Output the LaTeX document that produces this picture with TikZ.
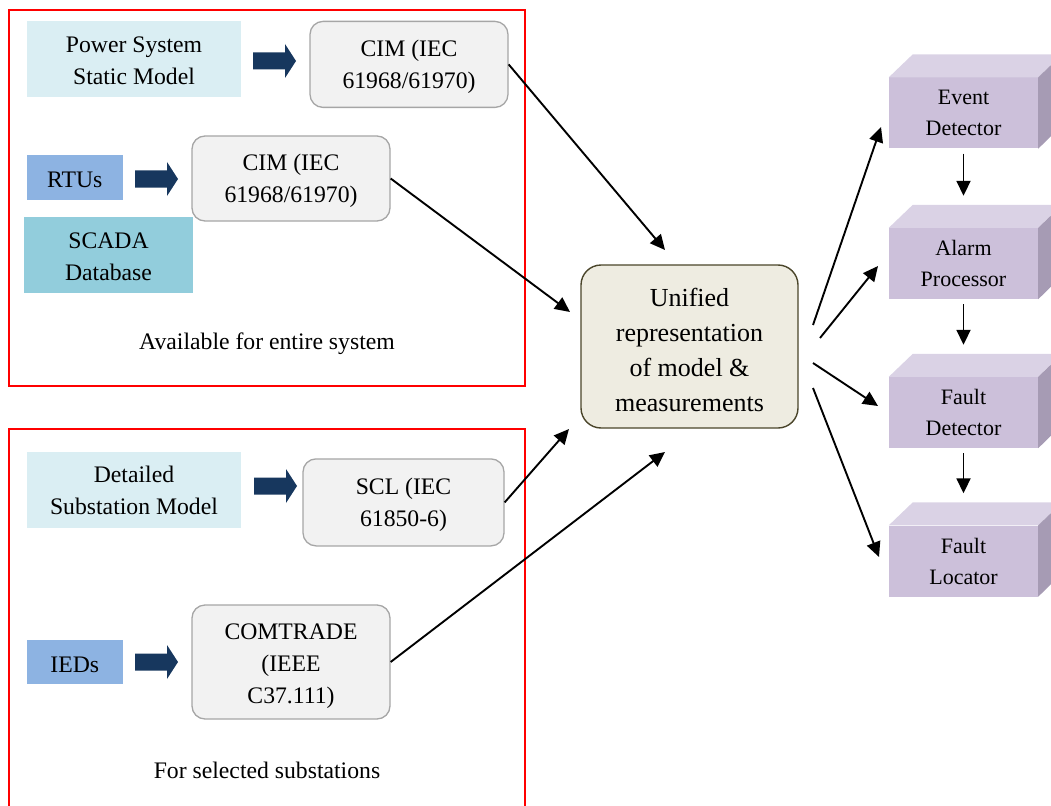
\documentclass[tikz,border=0pt]{standalone}
\usepackage{fontspec}
\setmainfont{Liberation Serif}
\usetikzlibrary{arrows.meta}
\definecolor{srcblue}{HTML}{DAEEF3}
\definecolor{devblue}{HTML}{8DB3E2}
\definecolor{scadablue}{HTML}{92CDDC}
\definecolor{navyarrow}{HTML}{17375E}
\definecolor{fmtfill}{HTML}{F2F2F2}
\definecolor{fmtdraw}{HTML}{A6A6A6}
\definecolor{unifill}{HTML}{EEECE1}
\definecolor{unidraw}{HTML}{4A452A}
\definecolor{cubefront}{HTML}{CCC0DA}
\definecolor{cubetop}{HTML}{DAD2E5}
\definecolor{cubeside}{HTML}{A69BB4}
\newcommand\blkarrow[1]{\fill[navyarrow] (#1) ++(0,-8.5) -- ++(32,0) -- ++(0,-8.5) -- ++(11,17) -- ++(-11,17) -- ++(0,-8.5) -- ++(-32,0) -- cycle;}
\newcommand\cubefaces[1]{%
  \fill[cubetop] (#1.north west) -- ++(24,-23) -- ++(149,0) -- (#1.north east) -- cycle;
  \fill[cubeside] (#1.north east) -- ++(24,-23) -- ++(0,71) -- (#1.south east) -- cycle;}
\tikzset{
  txt/.style={font=\fontsize{23.7}{32}\selectfont, align=center, inner sep=0},
  boxtext/.style={txt, yshift=-2.5pt},
  srcbox/.style={inner sep=0, fill=srcblue, minimum width=214, minimum height=76},
  devbox/.style={inner sep=0, fill=devblue, minimum width=95.6, minimum height=44},
  fmtbox/.style={inner sep=0, fill=fmtfill, draw=fmtdraw, line width=1.3, rounded corners=13},
  unibox/.style={inner sep=0, fill=unifill, draw=unidraw, line width=1.4, rounded corners=20, minimum width=217, minimum height=163},
  unitext/.style={font=\fontsize{26}{35}\selectfont, align=center, inner sep=0, yshift=-3.5pt},
  cube/.style={font=\fontsize{22}{31}\selectfont, align=center, inner sep=0, fill=cubefront, minimum width=149, minimum height=71},
  arr/.style={line width=1.9, -{Triangle[length=15, width=14]}},
  frame/.style={draw=red, line width=2.3}
}
\begin{document}
\begin{tikzpicture}[x=1pt,y=-1pt]
\clip (0,0) rectangle (1051,805);
% frames
\draw[frame] (9,10) rectangle (525,386);
\draw[frame] (9,429) rectangle (525,815);
% top group
\node[srcbox, label={[boxtext, yshift=1pt]center:{Power System\\Static Model}}] (psm) at (134,59.5) {};
\node[fmtbox, minimum width=198, minimum height=86, label={[boxtext]center:{CIM (IEC\\61968/61970)}}] (cim1) at (409,64.4) {};
\node[devbox, label={[boxtext]center:{RTUs}}] (rtu) at (74.8,177.5) {};
\node[fmtbox, minimum width=198, minimum height=85, label={[boxtext]center:{CIM (IEC\\61968/61970)}}] (cim2) at (291,178.5) {};
\node[srcbox, fill=scadablue, minimum width=169, label={[boxtext]center:{SCADA\\Database}}] (scada) at (108.5,254.5) {};
\node[txt] (lab1) at (267,343.5) {Available for entire system};
\coordinate (ba1) at (253,61);
\coordinate (ba2) at (135,179);
\blkarrow{ba1}
\blkarrow{ba2}
% bottom group
\node[srcbox, label={[boxtext, yshift=1.5pt]center:{Detailed\\Substation Model}}] (dsm) at (134,489.5) {};
\node[fmtbox, minimum width=201, minimum height=87, label={[boxtext]center:{SCL (IEC\\61850-6)}}] (scl) at (403.5,502.4) {};
\node[devbox, label={[boxtext]center:{IEDs}}] (ied) at (74.8,662) {};
\node[fmtbox, minimum width=198, minimum height=114, label={[boxtext, yshift=-2pt]center:{COMTRADE\\(IEEE\\C37.111)}}] (com) at (291,662) {};
\node[txt] (lab2) at (267,770.5) {For selected substations};
\coordinate (ba3) at (254,486);
\coordinate (ba4) at (135,662);
\blkarrow{ba3}
\blkarrow{ba4}
% unified
\node[unibox, label={[unitext, name=unitxt]center:{Unified\\representation\\of model \&\\measurements}}] (uni) at (689.5,346.5) {};
% cubes
\node[cube] (ed) at (963.5,113) {Event\\Detector};
\node[cube] (ap) at (963.5,263.5) {Alarm\\Processor};
\node[cube] (fd) at (963.5,412.5) {Fault\\Detector};
\node[cube] (fl) at (963.5,561) {Fault\\Locator};
\cubefaces{ed}
\cubefaces{ap}
\cubefaces{fd}
\cubefaces{fl}
\draw[arr, shorten <=5, shorten >=32] (ed.south) -- (ap.north);
\draw[arr, shorten <=5, shorten >=32] (ap.south) -- (fd.north);
\draw[arr, shorten <=5, shorten >=32] (fd.south) -- (fl.north);
% connectors into unified
\coordinate (t1) at (665,250);
\coordinate (t2) at (570,312);
\coordinate (t3) at (569,429);
\coordinate (t4) at (665,452);
\draw[arr] (cim1.east) -- (t1);
\draw[arr] (cim2.east) -- (t2);
\draw[arr] (scl.east) -- (t3);
\draw[arr] (com.east) -- (t4);
% connectors out of unified
\coordinate (s1) at (813,325);
\coordinate (s2) at (820,338);
\coordinate (s3) at (813,363);
\coordinate (s4) at (813,388);
\coordinate (e1) at (881,127);
\coordinate (e2) at (878,266);
\coordinate (e3) at (878,406);
\coordinate (e4) at (879,557);
\draw[arr] (s1) -- (e1);
\draw[arr] (s2) -- (e2);
\draw[arr] (s3) -- (e3);
\draw[arr] (s4) -- (e4);
\end{tikzpicture}
\end{document}
